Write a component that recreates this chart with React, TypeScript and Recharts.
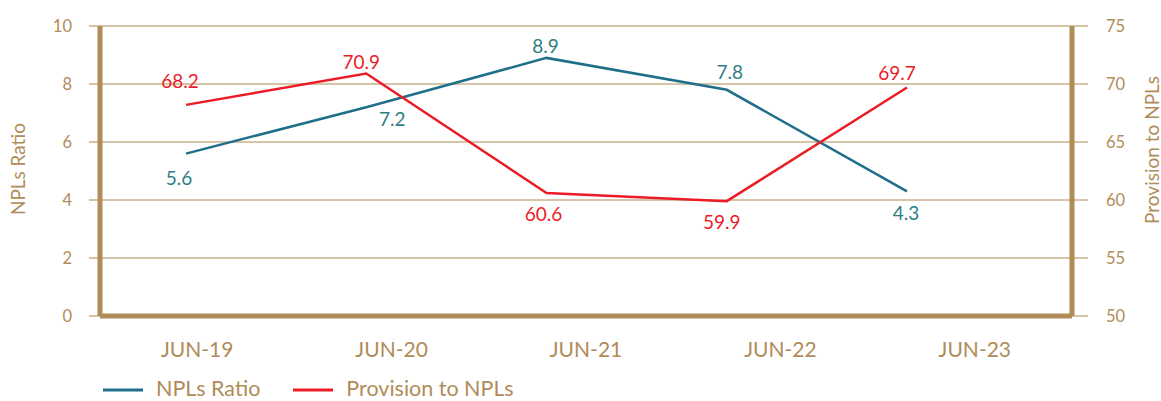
import { ComposedChart, Line, XAxis, YAxis, CartesianGrid, Legend } from 'recharts'

const months = ['JUN-19', 'JUN-20', 'JUN-21', 'JUN-22', 'JUN-23']
const nplsRatio = [5.6, 7.2, 8.9, 7.8, 4.3]
const provisionToNpls = [68.2, 70.9, 60.6, 59.9, 69.7]
const ratioTicks = [0, 2, 4, 6, 8, 10]
const provisionTicks = [50, 55, 60, 65, 70, 75]

// label nudges (px) relative to each point
const ratioLabelDx = [-7, 26, -1, 3, -1]
const ratioLabelDy = [25, 12, -12, -17, 22]
const provLabelDx = [-6, -5, -3, -5, -10]
const provLabelDy = [-24, -11, 21, 21, -14]

const GOLD = '#B08C58'
const GRID = '#AF8A50'
const BLUE = '#1F6F8B'
const BLUE_TEXT = '#2E7E86'
const RED = '#EC1C27'

const data = months.map((month, i) => ({
  month,
  ratio: nplsRatio[i],
  provision: provisionToNpls[i],
}))

function pointLabel(color: string, dxs: number[], dys: number[]) {
  return (props: any) => {
    const { x, y, value, index } = props
    const fs = 19
    return (
      <text
        key={`lbl-${index}`}
        x={x + dxs[index]}
        y={y + dys[index] + fs * 0.35}
        textAnchor="middle"
        fill={color}
        fontSize={fs}
      >
        {value}
      </text>
    )
  }
}

function LegendContent({ payload }: any) {
  return (
    <div style={{ display: 'flex', alignItems: 'center', paddingLeft: 103, paddingTop: 10, height: 24 }}>
      {(payload || []).map((p: any) => (
        <div key={p.value} style={{ display: 'flex', alignItems: 'center', marginRight: 33, height: 24 }}>
          <svg width={40} height={6} style={{ marginTop: 3 }}>
            <line x1={0} x2={40} y1={3} y2={3} stroke={p.color} strokeWidth={3} />
          </svg>
          <span style={{ marginLeft: 13, color: GOLD, fontSize: 21.5, lineHeight: '24px', whiteSpace: 'nowrap' }}>{p.value}</span>
        </div>
      ))}
    </div>
  )
}

export default function App() {
  return (
    <div style={{ position: 'absolute', left: 0, top: 0, fontFamily: 'Lato, sans-serif' }}>
      <ComposedChart width={1161} height={401} data={data} margin={{ top: 26, right: 0, bottom: 0, left: 0 }}>
        <CartesianGrid xAxisId="cat" yAxisId="left" vertical={false} stroke={GRID} strokeWidth={1} />
        <XAxis
          xAxisId="cat"
          dataKey="month"
          type="category"
          scale="band"
          height={50}
          axisLine={{ stroke: GOLD, strokeWidth: 5 }}
          tickLine={false}
          tickMargin={20}
          tick={{ fill: GOLD, fontSize: 21 }}
        />
        <XAxis
          xAxisId="pts"
          dataKey="month"
          type="category"
          scale="point"
          padding={{ left: 86, right: 165 }}
          hide
        />
        <YAxis
          yAxisId="left"
          domain={[0, 10]}
          ticks={ratioTicks}
          width={100}
          axisLine={{ stroke: GOLD, strokeWidth: 5 }}
          tickLine={{ stroke: GRID }}
          tickSize={11}
          tickMargin={17}
          tick={{ fill: GOLD, fontSize: 16.5 }}
          label={{
            content: ({ viewBox }: any) => {
              const cx = viewBox.x + 17
              const cy = viewBox.y + viewBox.height / 2 - 2
              return (
                <text x={cx} y={cy} transform={`rotate(-90 ${cx} ${cy})`} textAnchor="middle" dominantBaseline="central" fill={GOLD} fontSize={19}>
                  NPLs Ratio
                </text>
              )
            },
          }}
        />
        <YAxis
          yAxisId="right"
          orientation="right"
          domain={[50, 75]}
          ticks={provisionTicks}
          width={89}
          axisLine={{ stroke: GOLD, strokeWidth: 5 }}
          tickLine={{ stroke: GRID }}
          tickSize={16}
          tickMargin={18}
          tick={{ fill: GOLD, fontSize: 16.5 }}
          label={{
            content: ({ viewBox }: any) => {
              const cx = viewBox.x + 79
              const cy = viewBox.y + viewBox.height / 2 - 21
              return (
                <text x={cx} y={cy} transform={`rotate(-90 ${cx} ${cy})`} textAnchor="middle" dominantBaseline="central" fill={GOLD} fontSize={19}>
                  Provision to NPLs
                </text>
              )
            },
          }}
        />
        <Legend verticalAlign="bottom" align="left" height={35} content={<LegendContent />} />
        <Line
          xAxisId="pts"
          yAxisId="left"
          dataKey="ratio"
          name="NPLs Ratio"
          stroke={BLUE}
          strokeWidth={2.5}
          dot={false}
          activeDot={false}
          isAnimationActive={false}
          label={pointLabel(BLUE_TEXT, ratioLabelDx, ratioLabelDy)}
        />
        <Line
          xAxisId="pts"
          yAxisId="right"
          dataKey="provision"
          name="Provision to NPLs"
          stroke={RED}
          strokeWidth={2.5}
          dot={false}
          activeDot={false}
          isAnimationActive={false}
          label={pointLabel(RED, provLabelDx, provLabelDy)}
        />
      </ComposedChart>
    </div>
  )
}
